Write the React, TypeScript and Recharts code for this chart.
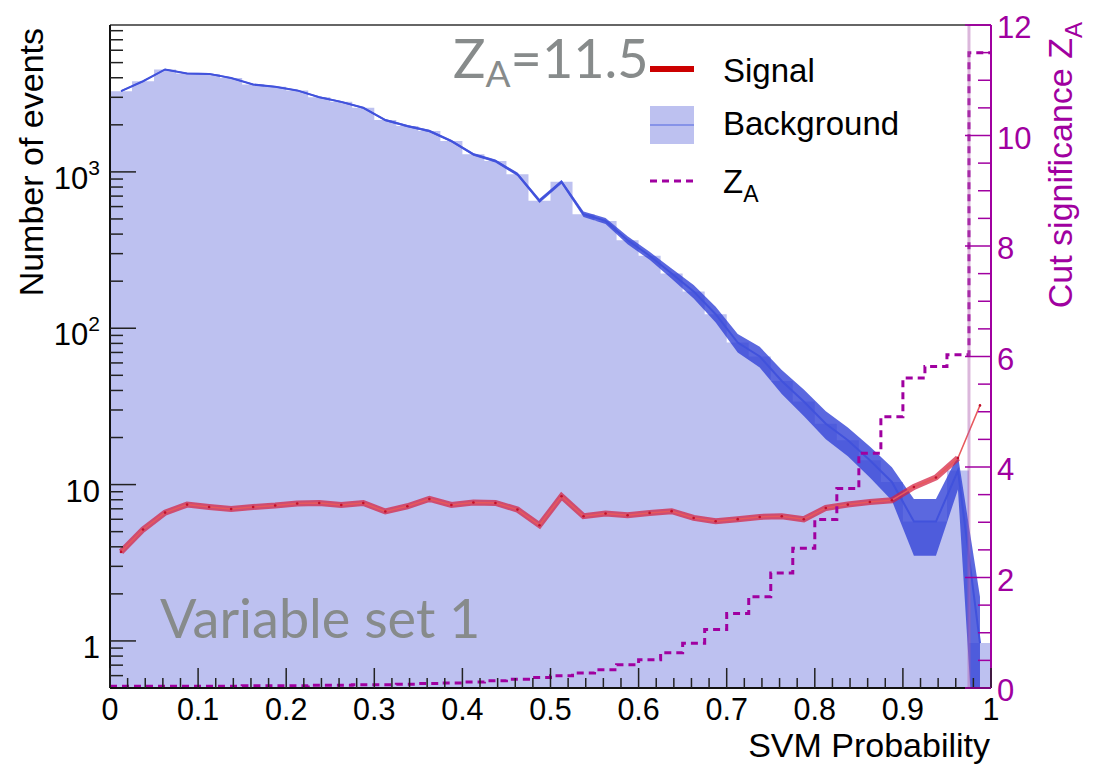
import React from "react";
import { ComposedChart, Area, Line, XAxis, YAxis, ReferenceLine, Legend } from "recharts";

// 40 bins in SVM probability (width 0.025)
const NBINS = 40;
const CUT = 0.975;
const Y_MIN = 0.5;
const Y_MAX = 8700;

const background = [
  3285, 3800, 4520, 4260, 4235, 3990, 3620, 3500, 3320, 3005,
  2805, 2570, 2145, 1965, 1825, 1575, 1295, 1175, 966, 653,
  864, 536, 486, 366, 291, 224, 172, 123, 81, 66,
  46, 34, 24.5, 19.2, 14.3, 10.4, 5.8, 5.8, 12.3, 0.97,
];
const backgroundErr = [
  40, 45, 50, 50, 50, 45, 42, 40, 38, 36,
  36, 35, 35, 33, 32, 30, 27, 26, 24, 20,
  25, 22, 22, 22, 17, 17, 17, 14, 11, 10,
  8, 6.5, 5, 4, 3.2, 2.5, 2.3, 2.3, 3, 0.95,
];
const signal = [
  3.71, 5.16, 6.62, 7.45, 7.19, 6.98, 7.19, 7.35, 7.57, 7.63,
  7.41, 7.63, 6.73, 7.27, 8.09, 7.41, 7.68, 7.63, 6.92, 5.5,
  8.42, 6.28, 6.53, 6.37, 6.59, 6.76, 6.12, 5.83, 6.01, 6.21,
  6.28, 6.0, 7.09, 7.45, 7.74, 7.94, 9.66, 11.1, 14.8, 32.1,
];
const zA = [
  0.03, 0.03, 0.03, 0.03, 0.03, 0.03, 0.04, 0.04, 0.04, 0.05,
  0.05, 0.06, 0.06, 0.07, 0.08, 0.09, 0.11, 0.13, 0.16, 0.19,
  0.22, 0.27, 0.33, 0.42, 0.51, 0.64, 0.81, 1.06, 1.35, 1.65,
  2.08, 2.53, 3.05, 3.61, 4.25, 4.91, 5.61, 5.82, 6.03, 11.5,
];

const xTicks = Array.from({ length: 51 }, (_, i) => i / 50);
const leftTicks = [0.6, 0.7, 0.8, 0.9].concat(
  ...[1, 10, 100, 1000].map((d) => [1, 2, 3, 4, 5, 6, 7, 8, 9].map((m) => m * d))
).filter((v) => v <= Y_MAX);
const rightTicks = Array.from({ length: 25 }, (_, i) => i * 0.5);

// histogram outline: one point per lower bin edge, plus closing edge at 1
const bkgSteps = background.map((v, i) => ({ x: i / NBINS, v })).concat({ x: 1, v: background[NBINS - 1] });
const zSteps = zA.map((v, i) => ({ x: i / NBINS, v })).concat({ x: 1, v: zA[NBINS - 1] });

const bkgPoints = background.map((v, i) => ({
  x: (i + 0.5) / NBINS,
  v,
  band: [Math.max(v - backgroundErr[i], 0.05), v + backgroundErr[i]],
}));
const sigPoints = signal.map((v, i) => ({ x: (i + 0.5) / NBINS, v }));
const sigBand = sigPoints.slice(0, NBINS - 1);

const FONT = "'Liberation Sans', Arial, sans-serif";
const MAGENTA = "#a000a0";

const XTick = ({ x, y, payload }: any) => {
  const v = payload.value;
  const major = Math.abs(v * 10 - Math.round(v * 10)) < 1e-6;
  const label = v === 0 ? "0" : v === 1 ? "1" : v.toFixed(1);
  return (
    <g>
      <line x1={x} x2={x} y1={y} y2={y - (major ? 20 : 10)} stroke="#222" strokeWidth={1.5} />
      {major && (
        <text x={x} y={y + 32} textAnchor="middle" fontFamily={FONT} fontSize={30.5} fill="#000">
          {label}
        </text>
      )}
    </g>
  );
};

const LeftTick = ({ x, y, payload }: any) => {
  const v = payload.value;
  const lg = Math.log10(v);
  const major = Math.abs(lg - Math.round(lg)) < 1e-6;
  const exp = Math.round(lg);
  return (
    <g>
      <line x1={x} x2={x + (major ? 26 : 13)} y1={y} y2={y} stroke="#222" strokeWidth={1.5} />
      {major && (
        <text x={x - 10} y={y + 17} textAnchor="end" fontFamily={FONT} fontSize={31} fill="#000">
          {exp <= 1 ? String(v) : "10"}
          {exp > 1 && (
            <tspan dy={-14} fontSize={21}>
              {exp}
            </tspan>
          )}
        </text>
      )}
    </g>
  );
};

const RightTick = ({ x, y, payload }: any) => {
  const v = payload.value;
  const major = Math.abs(v / 2 - Math.round(v / 2)) < 1e-6;
  return (
    <g>
      <line x1={x - (major ? 26 : 13)} x2={x} y1={y} y2={y} stroke={MAGENTA} strokeWidth={1.5} />
      {major && (
        <text x={x + 6} y={y + 13} textAnchor="start" fontFamily={FONT} fontSize={31} fill={MAGENTA}>
          {v}
        </text>
      )}
    </g>
  );
};

const renderLegend = () => (
  <svg width={300} height={170} style={{ overflow: "visible" }}>
    <line x1={0} x2={44} y1={21} y2={21} stroke="#cc0000" strokeWidth={6} />
    <text x={73} y={34} fontFamily={FONT} fontSize={33} fill="#000">Signal</text>
    <rect x={0} y={58} width={44} height={38} fill="#bdc1f0" />
    <line x1={0} x2={44} y1={77} y2={77} stroke="#7583e6" strokeWidth={1.5} />
    <text x={73} y={87} fontFamily={FONT} fontSize={33} fill="#000">Background</text>
    <line x1={0} x2={44} y1={133} y2={133} stroke={MAGENTA} strokeWidth={3} strokeDasharray="7 5" />
    <text x={73} y={145} fontFamily={FONT} fontSize={33} fill="#000">
      Z<tspan dy={9} fontSize={23}>A</tspan>
    </text>
  </svg>
);

export default function App() {
  return (
    <div style={{ position: "relative", width: 1080, height: 756 }}>
      <ComposedChart width={1080} height={756} margin={{ top: 17, right: 37, bottom: 36, left: 42 }}>
        <XAxis
          xAxisId="p"
          dataKey="x"
          type="number"
          domain={[0, 1]}
          ticks={xTicks}
          interval={0}
          height={40}
          tickSize={0}
          tickMargin={0}
          tickLine={false}
          tick={<XTick />}
          axisLine={{ stroke: "#111", strokeWidth: 2 }}
          allowDataOverflow
        />
        <YAxis
          yAxisId="n"
          type="number"
          scale="log"
          domain={[Y_MIN, Y_MAX]}
          ticks={leftTicks}
          interval={0}
          width={60}
          tickSize={0}
          tickMargin={0}
          tickLine={false}
          tick={<LeftTick />}
          axisLine={{ stroke: "#111", strokeWidth: 2 }}
          allowDataOverflow
        />
        <YAxis
          yAxisId="z"
          orientation="right"
          type="number"
          domain={[0, 12]}
          ticks={rightTicks}
          interval={0}
          width={60}
          tickSize={0}
          tickMargin={0}
          tickLine={false}
          tick={<RightTick />}
          axisLine={{ stroke: MAGENTA, strokeWidth: 2 }}
          allowDataOverflow
        />
        <Area
          xAxisId="p"
          yAxisId="n"
          data={bkgSteps}
          dataKey="v"
          type="stepAfter"
          baseValue={Y_MIN}
          fill="#bdc1f0"
          fillOpacity={1}
          stroke="none"
          isAnimationActive={false}
        />
        <Area
          xAxisId="p"
          yAxisId="n"
          data={bkgPoints}
          dataKey="band"
          type="linear"
          fill="#3242d7"
          fillOpacity={0.8}
          stroke="none"
          isAnimationActive={false}
        />
        <Line
          xAxisId="p"
          yAxisId="n"
          data={bkgPoints}
          dataKey="v"
          type="linear"
          stroke="#4152dc"
          strokeWidth={2}
          dot={false}
          isAnimationActive={false}
        />
        <Line
          xAxisId="p"
          yAxisId="n"
          data={sigBand}
          dataKey="v"
          type="linear"
          stroke="#d42040"
          strokeOpacity={0.72}
          strokeWidth={6}
          dot={false}
          isAnimationActive={false}
        />
        <Line
          xAxisId="p"
          yAxisId="n"
          data={sigPoints}
          dataKey="v"
          type="linear"
          stroke="#e8585c"
          strokeWidth={1.5}
          dot={{ r: 1.3, fill: "#c0102a", stroke: "none" }}
          isAnimationActive={false}
        />
        <Line
          xAxisId="p"
          yAxisId="z"
          data={zSteps}
          dataKey="v"
          type="stepAfter"
          stroke={MAGENTA}
          strokeWidth={3}
          strokeDasharray="7 5"
          dot={false}
          isAnimationActive={false}
        />
        <ReferenceLine xAxisId="p" yAxisId="z" x={CUT} stroke="#b060b0" strokeOpacity={0.45} strokeWidth={3} />
        <ReferenceLine xAxisId="p" yAxisId="z" y={12} stroke="#333" strokeWidth={1.5} />
        <ReferenceLine
          xAxisId="p"
          yAxisId="z"
          segment={[{ x: CUT, y: 12 }, { x: 1, y: 12 }]}
          stroke={MAGENTA}
          strokeWidth={1.5}
        />
        <Legend
          layout="vertical"
          align="center"
          verticalAlign="middle"
          wrapperStyle={{ left: 642, top: 40, width: 300, height: 170 }}
          content={renderLegend}
        />
      </ComposedChart>
      <svg
        width={1080}
        height={756}
        style={{ position: "absolute", left: 0, top: 0, pointerEvents: "none" }}
      >
        <text
          transform="translate(35,20) rotate(-90)"
          textAnchor="end"
          fontFamily={FONT}
          fontSize={34}
          fill="#000"
        >
          Number of events
        </text>
        <text x={982} y={749} textAnchor="end" fontFamily={FONT} fontSize={34} fill="#000">
          SVM Probability
        </text>
        <text
          transform="translate(1064,14) rotate(-90)"
          textAnchor="end"
          fontFamily={FONT}
          fontSize={34}
          fill={MAGENTA}
        >
          Cut significance Z<tspan dy={10} fontSize={24}>A</tspan>
        </text>
        <text x={445} y={70} fontFamily="Lato, sans-serif" fontSize={54} fill="#878b8b">
          Z<tspan dy={9} fontSize={37}>A</tspan>
          <tspan dy={-9}>=11.5</tspan>
        </text>
        <text x={152} y={630} fontFamily="Lato, sans-serif" fontSize={54} fill="#878b8b">
          Variable set 1
        </text>
      </svg>
    </div>
  );
}
